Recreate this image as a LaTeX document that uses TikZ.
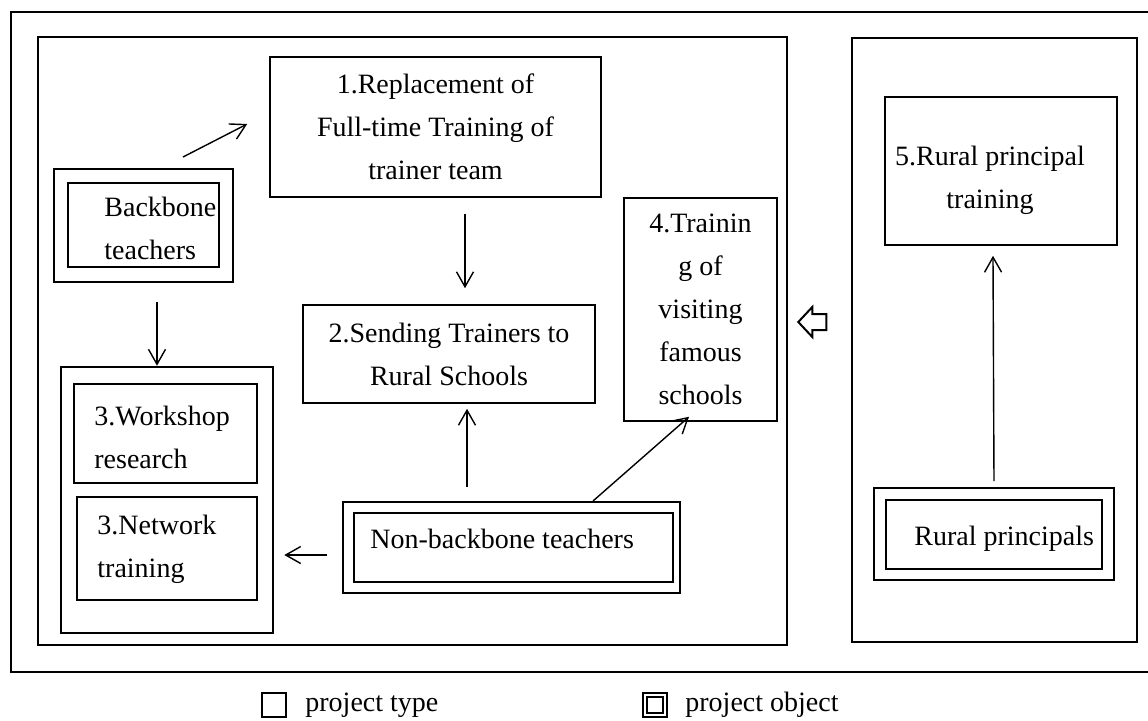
\documentclass[tikz,border=0pt]{standalone}
\usepackage{fontspec}
\setmainfont{Liberation Serif}
\usetikzlibrary{arrows.meta,fit,calc}
\begin{document}
\begin{tikzpicture}[x=0.5pt,y=-0.5pt,
  panel/.style={draw,line width=1.3pt,inner sep=0pt},
  pbox/.style={draw,line width=0.8pt,inner sep=0pt},
  dout/.style={draw,line width=1pt,inner sep=0pt},
  din/.style={draw,line width=1.3pt,inner sep=0pt},
  txt/.style={font=\fontsize{14}{21.5}\selectfont,align=center,inner sep=0pt},
  ltxt/.style={font=\fontsize{14}{21.5}\selectfont,align=left,inner sep=0pt,anchor=west},
  arr/.style={line width=0.7pt,-{Straight Barb[length=7.5pt,width=8.5pt,line width=0.7pt]}}]
\useasboundingbox (0,0) rectangle (1148,720);

% outer frame (open on the right)
\draw[line width=1.3pt] (1149,12) -- (11,12) -- (11,672) -- (1149,672);

% two panels
\node[panel,fit={(38,37) (787,645)}] (panelL) {};
\node[panel,fit={(852,38) (1137,642)}] (panelR) {};

% project types
\node[pbox,fit={(270,57) (601,197)}] (b1) {};
\node[txt] (t1) at (b1.center) {1.Replacement of\\Full-time Training of\\trainer team};

\node[pbox,fit={(303,305) (595,403)}] (b2) {};
\node[txt] (t2) at (b2.center) {2.Sending Trainers to\\Rural Schools};

\node[pbox,fit={(624,198) (777,421)}] (b4) {};
\node[txt] (t4) at ($(b4.center)+(0,0)$) {4.Trainin\\g of\\visiting\\famous\\schools};

\node[pbox,fit={(885,97) (1117,245)}] (b5) {};
\node[txt] (t5) at (990,180) {5.Rural principal\\training};

\node[panel,fit={(61,367) (273,633)}] (g3) {};
\node[pbox,fit={(74,384) (257,483)}] (w3) {};
\node[ltxt] (tw3) at (94,437) {3.Workshop\\research};
\node[pbox,fit={(77,497) (257,600)}] (n3) {};
\node[ltxt] (tn3) at (97,549) {3.Network\\training};

% project objects
\node[dout,fit={(54,169) (233,282)}] (bbO) {};
\node[din,fit={(68,183) (219,267)}] (bbI) {};
\node[ltxt] (tbb) at (104,228) {Backbone\\teachers};

\node[dout,fit={(343,502) (680,593)}] (nbO) {};
\node[din,fit={(354,513) (673,582)}] (nbI) {};
\node[ltxt] (tnb) at (370,539) {Non-backbone teachers};

\node[dout,fit={(874,488) (1114,580)}] (rpO) {};
\node[din,fit={(886,500) (1102,569)}] (rpI) {};
\node[ltxt] (trp) at (914,539) {Rural principals};

% connectors
\draw[arr] ($(bbO.north east)+(-51,-11)$) -- ($(b1.west)+(-22,-3)$);
\draw[arr] ($(b1.south)+(29.5,16)$) -- ($(b2.north)+(16,-16)$);
\draw[arr] ($(bbO.south)+(13.5,19)$) -- ($(g3.north)+(-10,0)$);
\draw[arr] ($(nbO.north)+(-44.5,-14)$) -- ($(b2.south)+(18,5)$);
\draw[arr] ($(nbO.north)+(81.5,0)$) -- ($(b4.south)+(-11.5,-5)$);
\draw[arr] ($(nbO.west)+(-15,7.5)$) -- ($(g3.east)+(10,55)$);
\draw[arr] ($(rpO.north)+(0,-6)$) -- ($(b5.south)+(-8,10)$);

% hollow arrow from the right panel to the left one
\coordinate (ha) at ($(panelL.east)+(10,-19)$);
\draw[line width=1pt,fill=white,line join=miter]
  (ha) -- ++(14,-15) -- ++(0,7) -- ++(14,0) -- ++(0,16) -- ++(-14,0) -- ++(0,7) -- cycle;

% legend
\node[pbox,line width=1pt,minimum width=12pt,minimum height=12pt] (lg1) at (274,705) {};
\node[txt,anchor=west] (lt1) at (305,705) {project type};
\node[dout,minimum width=12pt,minimum height=12pt] (lg2O) at (655,705) {};
\node[din,minimum width=8pt,minimum height=8pt] (lg2I) at (lg2O.center) {};
\node[txt,anchor=west] (lt2) at (685,705) {project object};
\end{tikzpicture}
\end{document}
